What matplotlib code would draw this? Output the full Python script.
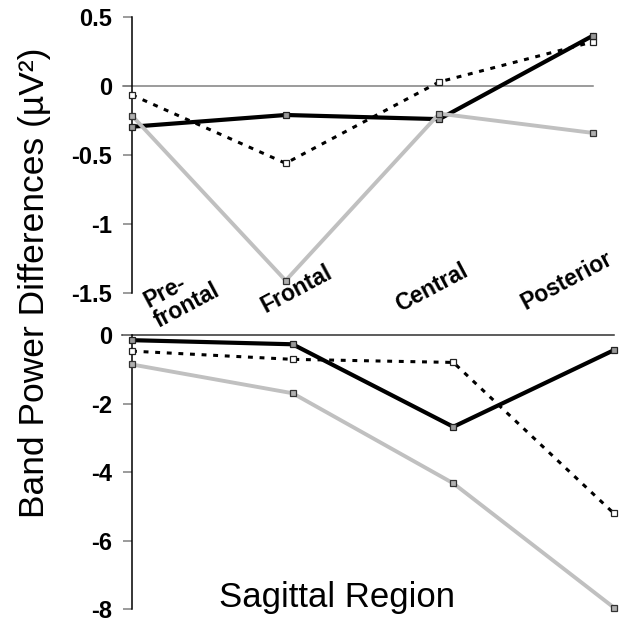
import numpy as np
import matplotlib
matplotlib.use('Agg')
import matplotlib.pyplot as plt

plt.rcParams['font.family'] = ['Liberation Sans', 'DejaVu Sans']

regions = ['Pre-\nfrontal', 'Frontal', 'Central', 'Posterior']
x = np.arange(len(regions))

# upper panel
top_solid = [-0.295, -0.21, -0.24, 0.365]
top_dotted = [-0.065, -0.56, 0.03, 0.32]
top_gray = [-0.215, -1.41, -0.20, -0.34]

# lower panel
bot_solid = [-0.15, -0.27, -2.68, -0.44]
bot_dotted = [-0.47, -0.71, -0.80, -5.21]
bot_gray = [-0.86, -1.70, -4.33, -7.96]

top_ticks = [0.5, 0, -0.5, -1, -1.5]
top_ticklabels = ['0.5', '0', '-0.5', '-1', '-1.5']
bot_ticks = [0, -2, -4, -6, -8]
bot_ticklabels = ['0', '-2', '-4', '-6', '-8']

# where the region names sit inside the upper panel (data coords)
label_x = [0.325, 1.074, 1.952, 2.83]
label_y = [-1.52, -1.47, -1.46, -1.41]

fig = plt.figure(figsize=(6.2, 6.3), dpi=100)
ax1 = fig.add_axes([0.2129, 0.5349, 0.7435, 0.4381])
ax2 = fig.add_axes([0.2129, 0.0333, 0.7774, 0.4349])


def draw(ax, solid, dotted, gray, zero_color):
    ax.axhline(0, xmin=-0.02, xmax=1, color=zero_color, lw=1.1, clip_on=False, zorder=1)
    ax.plot(x, dotted, color='black', lw=2.2, ls=(0, (1.6, 2.2)), marker='s', ms=5,
            mfc='white', mec='#222222', mew=0.9, clip_on=False, zorder=3)
    ax.plot(x, solid, color='black', lw=3.0, marker='s', ms=5,
            mfc='#999999', mec='#222222', mew=0.9, clip_on=False, zorder=4)
    ax.plot(x, gray, color='#c0c0c0', lw=2.8, marker='s', ms=5,
            mfc='#b0b0b0', mec='#333333', mew=0.9, clip_on=False, zorder=5)
    ax.set_xlim(0, 3)
    ax.set_xticks([])
    for s in ['top', 'right', 'bottom']:
        ax.spines[s].set_visible(False)
    ax.spines['left'].set_linewidth(1.1)
    ax.tick_params(axis='y', direction='out', length=6.5, width=1.1, pad=8,
                   color='#808080')


draw(ax1, top_solid, top_dotted, top_gray, '#808080')
ax1.set_ylim(-1.5, 0.5)
ax1.set_yticks(top_ticks)
ax1.set_yticklabels(top_ticklabels, fontweight='bold', fontsize=17)

draw(ax2, bot_solid, bot_dotted, bot_gray, '#303030')
ax2.set_ylim(-8, 0)
ax2.set_yticks(bot_ticks)
ax2.set_yticklabels(bot_ticklabels, fontweight='bold', fontsize=17)

for lx, ly, name in zip(label_x, label_y, regions):
    ax1.text(lx, ly, name, rotation=28, ha='center', va='center',
             multialignment='left', fontsize=16.5, fontweight='bold',
             linespacing=0.95, clip_on=False, zorder=6)

fig.text(337 / 620, 1 - 598 / 630, 'Sagittal Region', ha='center', va='center',
         fontsize=25)
fig.text(35 / 620, 1 - 283 / 630, 'Band Power Differences (µV²)',
         ha='center', va='center', rotation=90, fontsize=25.5)

fig.savefig('out.png', dpi=100)
